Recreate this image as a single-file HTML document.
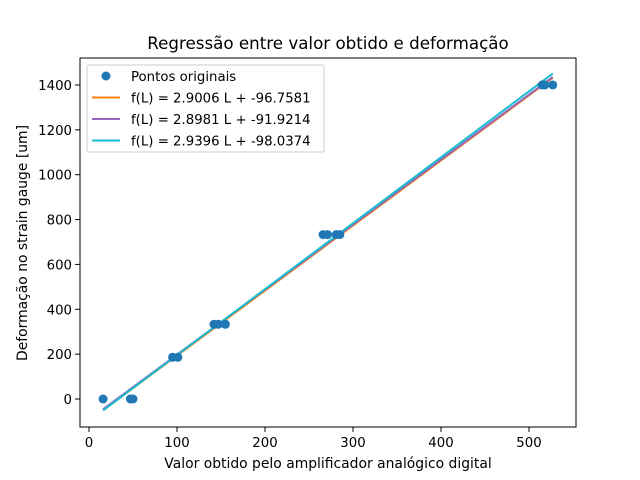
<!DOCTYPE html>
<html><head><meta charset="utf-8"><style>body{margin:0;background:#fff}svg{display:block;font-family:"DejaVu Sans","Liberation Sans",sans-serif}</style></head>
<body>
<svg id="c" width="640" height="480"></svg>
<script>
const xs=[16,47,50,95,101,142,147,155,266,271,281,285,515,518,527];
const ys=[0,0,0,186,186,333,333,333,733,733,733,733,1400,1400,1400];
const slopes=[2.9006,2.8981,2.9396];
const intercepts=[-96.7581,-91.9214,-98.0374];
const lineColors=['#ff7f0e','#9467bd','#17becf'];
const legendLabels=['Pontos originais','f(L) = 2.9006 L + -96.7581','f(L) = 2.8981 L + -91.9214','f(L) = 2.9396 L + -98.0374'];
const xTicks=[0,100,200,300,400,500];
const yTicks=[0,200,400,600,800,1000,1200,1400];
const NS='http://www.w3.org/2000/svg',svg=document.getElementById('c');
const L=80,R=576,T=58,B=427;
const sx=v=>89+v*0.88, sy=v=>399-v*0.22429;
function mk(t,a,p){const e=document.createElementNS(NS,t);for(const k in a)e.setAttribute(k,a[k]);(p||svg).appendChild(e);return e;}
let e;
e=mk('text',{x:328,y:49,'text-anchor':'middle','font-size':16.7});e.textContent='Regressão entre valor obtido e deformação';


const xmin=Math.min(...xs),xmax=Math.max(...xs);
slopes.forEach((m,i)=>{const b=intercepts[i];
 e=mk('line',{x1:sx(xmin),y1:sy(m*xmin+b),x2:sx(xmax),y2:sy(m*xmax+b),stroke:lineColors[i],'stroke-width':2});
 
 
});
xs.forEach((x,i)=>{e=mk('circle',{cx:sx(x),cy:sy(ys[i]),r:4.5,fill:'#1f77b4'});
 
 
});
e=mk('rect',{x:L,y:T,width:R-L,height:B-T,fill:'none',stroke:'#000','stroke-width':1});


xTicks.forEach(v=>{mk('line',{x1:sx(v),y1:B,x2:sx(v),y2:B+4.9,stroke:'#000'});
 e=mk('text',{x:sx(v),y:B+20,'text-anchor':'middle','font-size':13.3});e.textContent=v;
 
 
});
yTicks.forEach(v=>{mk('line',{x1:L,y1:sy(v),x2:L-4.9,y2:sy(v),stroke:'#000'});
 e=mk('text',{x:L-8,y:sy(v)+5,'text-anchor':'end','font-size':13.3});e.textContent=v;
 
 
});
e=mk('text',{x:328,y:468,'text-anchor':'middle','font-size':13.9});e.textContent='Valor obtido pelo amplificador analógico digital';


e=mk('text',{x:0,y:0,'text-anchor':'middle','font-size':13.9,transform:'translate(27,243) rotate(-90)'});e.textContent='Deformação no strain gauge [um]';


const lg=mk('g',{});


mk('rect',{x:87,y:65,width:237,height:87,rx:2,fill:'#fff','fill-opacity':0.8,stroke:'#ccc'},lg);
legendLabels.forEach((t,i)=>{const y=76+i*21.5;
 if(i===0)mk('circle',{cx:106,cy:y,r:4.5,fill:'#1f77b4'},lg);
 else mk('line',{x1:92,y1:y,x2:120,y2:y,stroke:lineColors[i-1],'stroke-width':2},lg);
 e=mk('text',{x:131,y:y+5,'font-size':13.3},lg);e.textContent=t;
 
 
});
</script>
</body></html>
